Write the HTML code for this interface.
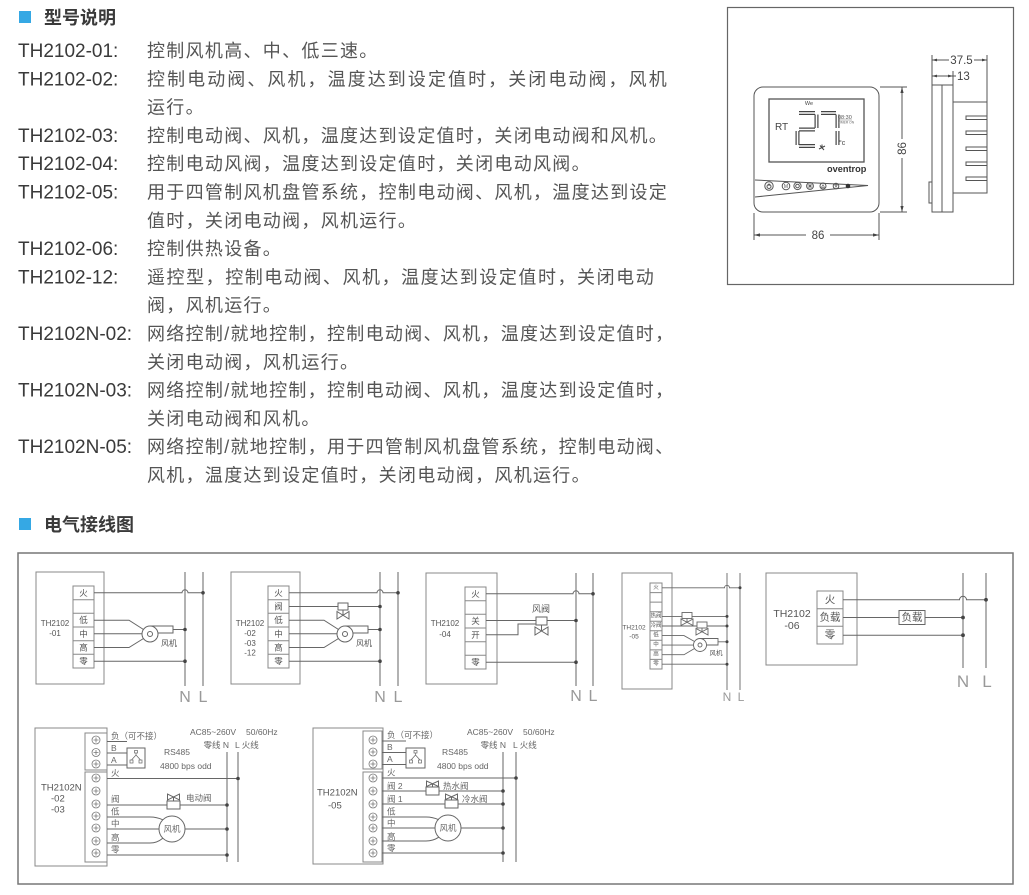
<!DOCTYPE html>
<html><head><meta charset="utf-8">
<style>
html,body{margin:0;padding:0;background:#fff;}
svg{display:block;}
</style></head><body>
<svg width="1029" height="895" viewBox="0 0 1029 895" xmlns="http://www.w3.org/2000/svg" style="font-family:'Liberation Sans','Noto Sans CJK SC',sans-serif">

<!-- ===== Header 1 ===== -->
<rect x="19" y="11" width="12" height="12" fill="#35a8e4"/>
<text x="44" y="24" font-size="18" font-weight="bold" fill="#3a3a3a">型号说明</text>

<g font-size="19" fill="#3a3a3a">
<text x="18" y="57">TH2102-01:</text>
<text x="18" y="85.3">TH2102-02:</text>
<text x="18" y="141.9">TH2102-03:</text>
<text x="18" y="170.2">TH2102-04:</text>
<text x="18" y="198.5">TH2102-05:</text>
<text x="18" y="255.1">TH2102-06:</text>
<text x="18" y="283.4">TH2102-12:</text>
<text x="18" y="340">TH2102N-02:</text>
<text x="18" y="396.6">TH2102N-03:</text>
<text x="18" y="453.2">TH2102N-05:</text>
</g>
<g font-size="18" fill="#555" style="letter-spacing:1.3px">
<text x="147" y="57">控制风机高、中、低三速。</text>
<text x="147" y="85.3" textLength="521" lengthAdjust="spacing">控制电动阀、风机，温度达到设定值时，关闭电动阀，风机</text>
<text x="147" y="113.6">运行。</text>
<text x="147" y="141.9">控制电动阀、风机，温度达到设定值时，关闭电动阀和风机。</text>
<text x="147" y="170.2">控制电动风阀，温度达到设定值时，关闭电动风阀。</text>
<text x="147" y="198.5">用于四管制风机盘管系统，控制电动阀、风机，温度达到设定</text>
<text x="147" y="226.8">值时，关闭电动阀，风机运行。</text>
<text x="147" y="255.1">控制供热设备。</text>
<text x="147" y="283.4" textLength="508" lengthAdjust="spacing">遥控型，控制电动阀、风机，温度达到设定值时，关闭电动</text>
<text x="147" y="311.7">阀，风机运行。</text>
<text x="147" y="340">网络控制/就地控制，控制电动阀、风机，温度达到设定值时，</text>
<text x="147" y="368.3">关闭电动阀，风机运行。</text>
<text x="147" y="396.6">网络控制/就地控制，控制电动阀、风机，温度达到设定值时，</text>
<text x="147" y="424.9">关闭电动阀和风机。</text>
<text x="147" y="453.2">网络控制/就地控制，用于四管制风机盘管系统，控制电动阀、</text>
<text x="147" y="481.5">风机，温度达到设定值时，关闭电动阀，风机运行。</text>
</g>

<!-- ===== Thermostat box ===== -->
<rect x="727.5" y="7.5" width="286" height="277" fill="none" stroke="#666" stroke-width="1.2"/>
<g stroke="#555" fill="none" stroke-width="1">
  <rect x="754" y="87" width="125" height="125" rx="9"/>
  <rect x="769" y="99" width="95" height="63" stroke-width="1.3"/>
  <path d="M755,180 L868,185.5 L755,197"/>
  <circle cx="769" cy="186" r="4.2"/>
  <circle cx="786" cy="186" r="3.8"/>
  <circle cx="797.5" cy="186" r="3.6"/>
  <circle cx="810" cy="186" r="3.4"/>
  <circle cx="823" cy="186" r="3"/>
  <circle cx="836" cy="186" r="2.8"/>
  <circle cx="769" cy="186.5" r="2"/>
  <path d="M769,183.5 V186"/>
  <circle cx="797.5" cy="186" r="1.8"/>
  <path d="M807.5,186 H812.5 M810,183.5 V188.5 M808.3,184.3 L811.7,187.7 M811.7,184.3 L808.3,187.7" stroke-width="0.6"/>
  <path d="M821.5,187.3 L823,184.7 L824.5,187.3 Z M834.7,184.9 L837.3,184.9 L836,187.3 Z" stroke-width="0.6"/>
  <!-- side view -->
  <rect x="932" y="85" width="21" height="127"/>
  <path d="M942,85 V212"/>
  <rect x="929" y="182" width="3" height="21"/>
  <path d="M953,102 H987 V193 H953"/>
  <rect x="966" y="116" width="21" height="3.5"/>
  <rect x="966" y="131" width="21" height="3.5"/>
  <rect x="966" y="147" width="21" height="3.5"/>
  <rect x="966" y="162" width="21" height="3.5"/>
  <rect x="966" y="177" width="21" height="3.5"/>
  <!-- dims -->
  <path d="M880,87 H907 M880,212 H907 M902,87 V139 M902,158 V212"/>
  <path d="M754,213 V240 M879,213 V240 M754,235 H806 M830,235 H879"/>
  <path d="M932,55 V85 M987,55 V102 M953,71 V85 M932,60 H949 M974,60 H987 M932,76 H956"/>
</g>
<circle cx="848" cy="186" r="2.3" fill="#333"/>
<text x="786" y="188" font-size="5" fill="#555" text-anchor="middle">M</text>
<g fill="#444">
  <polygon points="902,87 900.4,93 903.6,93"/>
  <polygon points="902,212 900.4,206 903.6,206"/>
  <polygon points="754,235 760,233.4 760,236.6"/>
  <polygon points="879,235 873,233.4 873,236.6"/>
  <polygon points="932,60 937,58.6 937,61.4"/>
  <polygon points="987,60 982,58.6 982,61.4"/>
  <polygon points="932,76 937,74.6 937,77.4"/>
  <polygon points="953,76 948,74.6 948,77.4"/>
</g>
<g font-size="11.5" fill="#444">
  <text x="818" y="239" text-anchor="middle">86</text>
  <text x="0" y="0" text-anchor="middle" transform="translate(906,148.5) rotate(-90)">86</text>
  <text x="961.5" y="64" text-anchor="middle">37.5</text>
  <text x="957" y="80">13</text>
</g>
<!-- LCD contents -->
<text x="809" y="105" font-size="5.5" fill="#444" text-anchor="middle">We</text>
<text x="775" y="130" font-size="10" fill="#444">RT</text>
<g fill="none" stroke-linecap="butt">
  <path d="M799,113 H815 M816.5,114.5 V128 M799,129.5 H815 M797.5,131 V145 M799,146 H815 M821,113 H836 M837.5,114.5 V128 M837.5,131 V145" stroke="#444" stroke-width="4"/>
  <path d="M799,113 H815 M816.5,114.5 V128 M799,129.5 H815 M797.5,131 V145 M799,146 H815 M821,113 H836 M837.5,114.5 V128 M837.5,131 V145" stroke="#fff" stroke-width="1.6"/>
</g>
<text x="838" y="119" font-size="5.5" fill="#555">08:30</text>
<path d="M838,120 H852" stroke="#777" stroke-width="0.5"/>
<text x="838" y="123.5" font-size="3.3" fill="#666">TIMER ON</text>
<text x="839" y="145" font-size="7" fill="#444">°c</text>
<path d="M819,149 L825,146 M820,145.5 L824,150 M822,144.5 V148" stroke="#444" stroke-width="1"/>
<text x="827" y="172" font-size="9.2" font-weight="bold" fill="#333">oventrop</text>

<!-- ===== Header 2 ===== -->
<rect x="19" y="518" width="12" height="12" fill="#35a8e4"/>
<text x="44" y="531" font-size="18" font-weight="bold" fill="#3a3a3a">电气接线图</text>

<!-- ===== Wiring outer box ===== -->
<rect x="18" y="553" width="995" height="331" fill="none" stroke="#777" stroke-width="1.5"/>

<!-- ===== Diagram 1 ===== -->
<g>
<g stroke="#888" fill="none" stroke-width="1">
  <rect x="36" y="572" width="68" height="112"/>
  <rect x="73" y="586" width="21" height="82"/>
  <path d="M73,599.7 H94 M73,613.3 H94 M73,627 H94 M73,640.7 H94 M73,654.3 H94"/>
</g>
<g stroke="#666" fill="none" stroke-width="1">
  <path d="M185,572 V686 M203,572 V686"/>
  <path d="M94,592.8 H182 a3,3 0 0 1 6,0 H203"/>
  <path d="M94,620.2 H129 L143.5,629.5 M94,633.8 H142 M94,647.5 H129 L143.5,638.5"/>
  <circle cx="150" cy="634" r="8"/>
  <circle cx="150" cy="634" r="2.5"/>
  <path d="M150,626 H173 V633 H157.8 M173,629.5 H185"/>
  <path d="M94,661.2 H185"/>
</g>
<g fill="#444">
  <circle cx="203" cy="592.8" r="1.8"/>
  <circle cx="185" cy="629.5" r="1.8"/>
  <circle cx="185" cy="661.2" r="1.8"/>
</g>
<g font-size="16" fill="#999" text-anchor="middle">
  <text x="185" y="702">N</text>
  <text x="203" y="702">L</text>
</g>
<text x="169" y="646" font-size="8" fill="#555" text-anchor="middle">风机</text>
<g font-size="8.5" fill="#555" text-anchor="middle" dominant-baseline="central">
  <text x="83.5" y="592.8">火</text>
  <text x="83.5" y="620.2">低</text>
  <text x="83.5" y="633.8">中</text>
  <text x="83.5" y="647.5">高</text>
  <text x="83.5" y="661.2">零</text>
</g>
<g font-size="8" fill="#555" text-anchor="middle">
  <text x="55" y="626">TH2102</text>
  <text x="55" y="636">-01</text>
</g>
</g>

<!-- ===== Diagram 2 ===== -->
<g transform="translate(195,0)">
<g stroke="#888" fill="none" stroke-width="1">
  <rect x="36" y="572" width="69" height="112"/>
  <rect x="73" y="586" width="21" height="82"/>
  <path d="M73,599.7 H94 M73,613.3 H94 M73,627 H94 M73,640.7 H94 M73,654.3 H94"/>
</g>
<g stroke="#666" fill="none" stroke-width="1">
  <path d="M185,572 V686 M203,572 V686"/>
  <path d="M94,592.8 H182 a3,3 0 0 1 6,0 H203"/>
  <path d="M94,606.5 H185"/>
  <path d="M94,620.2 H129 L143.5,629.5 M94,633.8 H142 M94,647.5 H129 L143.5,638.5"/>
  <circle cx="150" cy="634" r="8"/>
  <circle cx="150" cy="634" r="2.5"/>
  <path d="M150,626 H173 V633 H157.8 M173,629.5 H185"/>
  <path d="M94,661.2 H185"/>
  <rect x="143" y="603" width="10" height="7" fill="#fff"/>
  <path d="M148,610 V615 M142,611.5 L142,619 L154,611.5 L154,619 Z"/>
</g>
<g fill="#444">
  <circle cx="203" cy="592.8" r="1.8"/>
  <circle cx="185" cy="606.5" r="1.8"/>
  <circle cx="185" cy="629.5" r="1.8"/>
  <circle cx="185" cy="661.2" r="1.8"/>
</g>
<g font-size="16" fill="#999" text-anchor="middle">
  <text x="185" y="702">N</text>
  <text x="203" y="702">L</text>
</g>
<text x="169" y="646" font-size="8" fill="#555" text-anchor="middle">风机</text>
<g font-size="8.5" fill="#555" text-anchor="middle" dominant-baseline="central">
  <text x="83.5" y="592.8">火</text>
  <text x="83.5" y="606.5">阀</text>
  <text x="83.5" y="620.2">低</text>
  <text x="83.5" y="633.8">中</text>
  <text x="83.5" y="647.5">高</text>
  <text x="83.5" y="661.2">零</text>
</g>
<g font-size="8" fill="#555" text-anchor="middle">
  <text x="55" y="626">TH2102</text>
  <text x="55" y="636">-02</text>
  <text x="55" y="646">-03</text>
  <text x="55" y="655.5">-12</text>
</g>
</g>

<!-- ===== Diagram 3 ===== -->
<g stroke="#888" fill="none" stroke-width="1">
  <rect x="426" y="573" width="71" height="111"/>
  <rect x="465" y="587" width="21" height="82"/>
  <path d="M465,600.7 H486 M465,614.3 H486 M465,628 H486 M465,641.7 H486 M465,655.3 H486"/>
</g>
<g stroke="#666" fill="none" stroke-width="1">
  <path d="M576,573 V686 M593,573 V686"/>
  <path d="M486,593.8 H573 a3,3 0 0 1 6,0 H593"/>
  <path d="M486,620.5 H576"/>
  <path d="M486,634.8 H518 V624 H536"/>
  <rect x="536" y="617" width="11" height="8" fill="#fff"/>
  <path d="M541.5,625 V631 M535,627 L535,635 L548,627 L548,635 Z"/>
  <path d="M486,662.2 H576"/>
</g>
<g fill="#444">
  <circle cx="593" cy="593.8" r="1.8"/>
  <circle cx="576" cy="620.5" r="1.8"/>
  <circle cx="576" cy="662.2" r="1.8"/>
</g>
<g font-size="16" fill="#999" text-anchor="middle">
  <text x="576" y="701">N</text>
  <text x="593" y="701">L</text>
</g>
<text x="541" y="612" font-size="9" fill="#555" text-anchor="middle">风阀</text>
<g font-size="8.5" fill="#555" text-anchor="middle" dominant-baseline="central">
  <text x="475.5" y="593.8">火</text>
  <text x="475.5" y="621.2">关</text>
  <text x="475.5" y="634.8">开</text>
  <text x="475.5" y="662.2">零</text>
</g>
<g font-size="8" fill="#555" text-anchor="middle">
  <text x="445" y="626">TH2102</text>
  <text x="445" y="637">-04</text>
</g>

<!-- ===== Diagram 4 ===== -->
<g stroke="#888" fill="none" stroke-width="1">
  <rect x="622" y="573" width="50" height="116"/>
  <rect x="650" y="583" width="12" height="86"/>
  <path d="M650,592.6 H662 M650,602.1 H662 M650,611.7 H662 M650,621.2 H662 M650,630.8 H662 M650,640.3 H662 M650,649.9 H662 M650,659.4 H662"/>
</g>
<g stroke="#666" fill="none" stroke-width="0.9">
  <path d="M727,573 V690 M740,573 V690"/>
  <path d="M662,587.8 H724.5 a2.5,2.5 0 0 1 5,0 H740"/>
  <path d="M662,616.4 H727 M662,626 H727"/>
  <rect x="682" y="612.5" width="10" height="6" fill="#fff"/>
  <path d="M687,618.5 V622 M681,619 L681,625.5 L693,619 L693,625.5 Z"/>
  <rect x="697" y="622" width="10" height="6" fill="#fff"/>
  <path d="M702,628 V631.5 M696,628.5 L696,635 L708,628.5 L708,635 Z"/>
  <path d="M662,635.6 H684 L694.5,641.5 M662,645.1 H693.5 M662,654.7 H684 L694.5,648.5"/>
  <circle cx="700" cy="645" r="6.5"/>
  <circle cx="700" cy="645" r="2"/>
  <path d="M700,638.5 H718 V645 H706.3 M718,641.8 H727"/>
  <path d="M662,664.2 H727"/>
</g>
<g fill="#444">
  <circle cx="740" cy="587.8" r="1.5"/>
  <circle cx="727" cy="616.4" r="1.5"/>
  <circle cx="727" cy="626" r="1.5"/>
  <circle cx="727" cy="641.8" r="1.5"/>
  <circle cx="727" cy="664.2" r="1.5"/>
</g>
<g font-size="12" fill="#999" text-anchor="middle">
  <text x="727" y="701">N</text>
  <text x="741" y="701">L</text>
</g>
<text x="716" y="655" font-size="6.5" fill="#555" text-anchor="middle">风机</text>
<g font-size="5.5" fill="#555" text-anchor="middle" dominant-baseline="central">
  <text x="656" y="587.8">火</text>
  <text x="656" y="616.4">热阀</text>
  <text x="656" y="626">冷阀</text>
  <text x="656" y="635.6">低</text>
  <text x="656" y="645.1">中</text>
  <text x="656" y="654.7">高</text>
  <text x="656" y="664.2">零</text>
</g>
<g font-size="6.5" fill="#555" text-anchor="middle">
  <text x="634" y="629.5">TH2102</text>
  <text x="634" y="638.5">-05</text>
</g>

<!-- ===== Diagram 5 ===== -->
<g stroke="#888" fill="none" stroke-width="1">
  <rect x="766" y="573" width="91" height="92"/>
  <rect x="817" y="591" width="26" height="53"/>
  <path d="M817,608.7 H843 M817,626.3 H843"/>
</g>
<g stroke="#666" fill="none" stroke-width="1">
  <path d="M963,573 V668 M986,573 V668"/>
  <path d="M843,599.8 H959.5 a3.5,3.5 0 0 1 7,0 H986"/>
  <path d="M843,617.5 H899 M925,617.5 H963"/>
  <rect x="899" y="610.5" width="26" height="14"/>
  <path d="M843,635.2 H963"/>
</g>
<g fill="#444">
  <circle cx="986" cy="599.8" r="1.9"/>
  <circle cx="963" cy="617.5" r="1.9"/>
  <circle cx="963" cy="635.2" r="1.9"/>
</g>
<g font-size="17" fill="#999" text-anchor="middle">
  <text x="963" y="687">N</text>
  <text x="987" y="687">L</text>
</g>
<g font-size="10.5" fill="#555" text-anchor="middle" dominant-baseline="central">
  <text x="830" y="599.8">火</text>
  <text x="830" y="617.5">负载</text>
  <text x="830" y="635.2">零</text>
  <text x="912" y="617.5">负载</text>
</g>
<g font-size="10.5" fill="#555" text-anchor="middle">
  <text x="792" y="617">TH2102</text>
  <text x="792" y="629">-06</text>
</g>

<!-- ===== Diagram 6 (TH2102N-02/-03) ===== -->
<g stroke="#888" fill="none" stroke-width="1">
  <rect x="35" y="728" width="72" height="138"/>
  <rect x="85" y="733" width="22" height="37" fill="#fff"/>
  <rect x="85" y="772" width="22" height="90" fill="#fff"/>
</g>
<g stroke="#777" fill="none" stroke-width="0.8">
  <circle cx="96" cy="740" r="4"/><circle cx="96" cy="752.5" r="4"/><circle cx="96" cy="764" r="4"/>
  <circle cx="96" cy="778" r="4"/><circle cx="96" cy="791" r="4"/><circle cx="96" cy="804" r="4"/>
  <circle cx="96" cy="816" r="4"/><circle cx="96" cy="828" r="4"/><circle cx="96" cy="841" r="4"/><circle cx="96" cy="853" r="4"/>
  <path d="M93.5,740 H98.5 M96,737.5 V742.5 M93.5,752.5 H98.5 M96,750 V755 M93.5,764 H98.5 M96,761.5 V766.5 M93.5,778 H98.5 M96,775.5 V780.5 M93.5,791 H98.5 M96,788.5 V793.5 M93.5,804 H98.5 M96,801.5 V806.5 M93.5,816 H98.5 M96,813.5 V818.5 M93.5,828 H98.5 M96,825.5 V830.5 M93.5,841 H98.5 M96,838.5 V843.5 M93.5,853 H98.5 M96,850.5 V855.5"/>
</g>
<g stroke="#666" fill="none" stroke-width="1">
  <path d="M227,752 V862 M238,752 V862"/>
  <path d="M107,741.5 H127 M107,753 H127 M107,765 H127"/>
  <rect x="127" y="748" width="18" height="20"/>
  <path d="M136,753 V755 L131.5,760 M136,755 L140.5,760" stroke-width="0.7"/>
  <rect x="134.5" y="750.5" width="3" height="2.5" stroke-width="0.7"/>
  <rect x="130" y="760" width="3" height="3" stroke-width="0.7"/>
  <rect x="139" y="760" width="3" height="3" stroke-width="0.7"/>
  <path d="M107,778.5 H238"/>
  <path d="M107,805 H227"/>
  <rect x="167" y="801" width="13" height="8" fill="#fff"/>
  <path d="M173.5,797 V801 M167.5,794 L167.5,800 L179.5,794 L179.5,800 Z"/>
  <path d="M107,817 H150 Q157,817 162.8,819.8 M107,829 H159 M185,829 H227 M107,843 H150 Q157,843 162.8,838.2"/>
  <circle cx="172" cy="829" r="13"/>
  <path d="M107,855 H227"/>
</g>
<g fill="#444">
  <circle cx="238" cy="778.5" r="1.8"/>
  <circle cx="227" cy="805" r="1.8"/>
  <circle cx="227" cy="829" r="1.8"/>
  <circle cx="227" cy="855" r="1.8"/>
</g>
<g font-size="8.5" fill="#666">
  <text x="111" y="739">负（可不接）</text>
  <text x="111" y="751">B</text>
  <text x="111" y="763">A</text>
  <text x="111" y="776">火</text>
  <text x="111" y="802">阀</text>
  <text x="111" y="814.5">低</text>
  <text x="111" y="826.5">中</text>
  <text x="111" y="840.5">高</text>
  <text x="111" y="852.5">零</text>
  <text x="186" y="801">电动阀</text>
  <text x="172" y="832" text-anchor="middle">风机</text>
  <text x="190" y="735">AC85~260V</text>
  <text x="246" y="735">50/60Hz</text>
  <text x="229" y="748" text-anchor="end">零线 N</text>
  <text x="235" y="748">L 火线</text>
  <text x="164" y="755">RS485</text>
  <text x="160" y="769">4800 bps odd</text>
</g>
<g font-size="9.5" fill="#555">
  <text x="41" y="790.5">TH2102N</text>
  <text x="51" y="801.5">-02</text>
  <text x="51" y="812.5">-03</text>
</g>

<!-- ===== Diagram 7 (TH2102N-05) ===== -->
<g stroke="#888" fill="none" stroke-width="1">
  <rect x="313" y="728" width="70" height="136"/>
  <rect x="363" y="731" width="19" height="38" fill="#fff"/>
  <rect x="363" y="772" width="19" height="90" fill="#fff"/>
</g>
<g stroke="#777" fill="none" stroke-width="0.8">
  <circle cx="373" cy="740" r="4"/><circle cx="373" cy="752" r="4"/><circle cx="373" cy="764" r="4"/>
  <circle cx="373" cy="778" r="4"/><circle cx="373" cy="791" r="4"/><circle cx="373" cy="804" r="4"/>
  <circle cx="373" cy="817" r="4"/><circle cx="373" cy="828" r="4"/><circle cx="373" cy="841" r="4"/><circle cx="373" cy="853" r="4"/>
  <path d="M370.5,740 H375.5 M373,737.5 V742.5 M370.5,752 H375.5 M373,749.5 V754.5 M370.5,764 H375.5 M373,761.5 V766.5 M370.5,778 H375.5 M373,775.5 V780.5 M370.5,791 H375.5 M373,788.5 V793.5 M370.5,804 H375.5 M373,801.5 V806.5 M370.5,817 H375.5 M373,814.5 V819.5 M370.5,828 H375.5 M373,825.5 V830.5 M370.5,841 H375.5 M373,838.5 V843.5 M370.5,853 H375.5 M373,850.5 V855.5"/>
</g>
<g stroke="#666" fill="none" stroke-width="1">
  <path d="M503,752 V862 M516,752 V862"/>
  <path d="M382,741 H406 M382,752.5 H406 M382,764.5 H406"/>
  <rect x="406" y="748" width="19" height="20"/>
  <path d="M415.5,753 V755 L411,760 M415.5,755 L420,760" stroke-width="0.7"/>
  <rect x="414" y="750.5" width="3" height="2.5" stroke-width="0.7"/>
  <rect x="409.5" y="760" width="3" height="3" stroke-width="0.7"/>
  <rect x="418.5" y="760" width="3" height="3" stroke-width="0.7"/>
  <path d="M382,778 H516"/>
  <path d="M382,791 H503 M382,804 H503"/>
  <rect x="426" y="787" width="13" height="8" fill="#fff"/>
  <path d="M432.5,784 V787 M426.5,781 L426.5,786.5 L438.5,781 L438.5,786.5 Z"/>
  <rect x="445" y="800" width="13" height="8" fill="#fff"/>
  <path d="M451.5,797 V800 M445.5,794 L445.5,799.5 L457.5,794 L457.5,799.5 Z"/>
  <path d="M382,817 H426 Q433,817 438.8,819.8 M382,828 H435 M461,828 H503 M382,841 H426 Q433,841 438.8,837.2"/>
  <circle cx="448" cy="828" r="13"/>
  <path d="M382,853 H503"/>
</g>
<g fill="#444">
  <circle cx="516" cy="778" r="1.8"/>
  <circle cx="503" cy="791" r="1.8"/>
  <circle cx="503" cy="804" r="1.8"/>
  <circle cx="503" cy="828" r="1.8"/>
  <circle cx="503" cy="853" r="1.8"/>
</g>
<g font-size="8.5" fill="#666">
  <text x="387" y="738">负（可不接）</text>
  <text x="387" y="750">B</text>
  <text x="387" y="762">A</text>
  <text x="387" y="775.5">火</text>
  <text x="387" y="789">阀 2</text>
  <text x="387" y="802">阀 1</text>
  <text x="387" y="814.5">低</text>
  <text x="387" y="826">中</text>
  <text x="387" y="839.5">高</text>
  <text x="387" y="851">零</text>
  <text x="443" y="789">热水阀</text>
  <text x="462" y="802">冷水阀</text>
  <text x="448" y="831" text-anchor="middle">风机</text>
  <text x="467" y="735">AC85~260V</text>
  <text x="523" y="735">50/60Hz</text>
  <text x="506" y="748" text-anchor="end">零线 N</text>
  <text x="513" y="748">L 火线</text>
  <text x="442" y="755">RS485</text>
  <text x="437" y="769">4800 bps odd</text>
</g>
<g font-size="9.5" fill="#555">
  <text x="317" y="795.5">TH2102N</text>
  <text x="328" y="808.5">-05</text>
</g>

</svg>
</body></html>
